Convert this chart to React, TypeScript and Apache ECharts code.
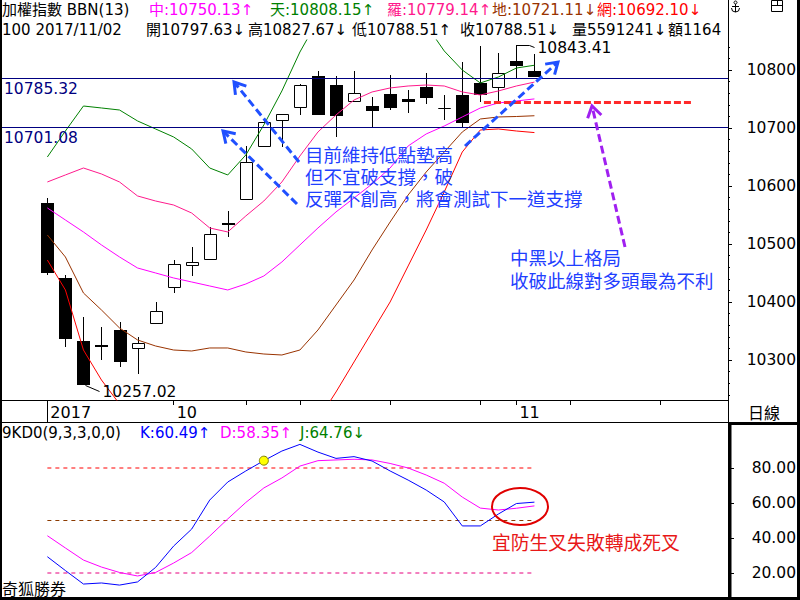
import React, { useEffect, useRef } from "react";
import * as echarts from "echarts";

// ---- data ----
const dates = [
  "2017/09/21", "2017/09/22", "2017/09/25", "2017/09/26", "2017/09/27", "2017/09/28", "2017/09/29",
  "2017/10/02", "2017/10/03", "2017/10/05", "2017/10/06", "2017/10/11", "2017/10/12", "2017/10/13",
  "2017/10/16", "2017/10/17", "2017/10/18", "2017/10/19", "2017/10/20", "2017/10/23", "2017/10/24",
  "2017/10/25", "2017/10/26", "2017/10/27", "2017/10/30", "2017/10/31", "2017/11/01", "2017/11/02",
];
const opens = [10570.7, 10441.4, 10332.8, 10326.0, 10351.7, 10320.2, 10363.3, 10425.3, 10463.3, 10473.6, 10537.0, 10577.0, 10669.8, 10713.8, 10735.7, 10790.2, 10774.7, 10746.0, 10738.0, 10759.1, 10750.0, 10770.7, 10734.0, 10756.9, 10777.1, 10771.2, 10815.5, 10797.63];
const closes = [10450.5, 10336.7, 10257.02, 10323.5, 10297.1, 10328.8, 10384.0, 10465.0, 10468.4, 10517.2, 10534.5, 10640.9, 10709.8, 10723.6, 10774.1, 10722.4, 10721.2, 10759.8, 10729.8, 10735.0, 10744.3, 10751.2, 10734.2, 10709.1, 10757.0, 10794.3, 10807.4, 10788.51];
const lows = [10446.6, 10323.0, 10257.02, 10300.0, 10288.5, 10275.3, 10363.3, 10415.0, 10445.3, 10473.6, 10512.6, 10577.0, 10668.0, 10667.8, 10723.0, 10722.4, 10685.0, 10746.0, 10702.2, 10731.0, 10726.4, 10740.9, 10713.8, 10700.0, 10744.0, 10746.6, 10784.0, 10788.51];
const highs = [10578.8, 10446.6, 10374.7, 10357.4, 10365.0, 10340.2, 10400.0, 10472.4, 10495.3, 10529.8, 10556.9, 10669.0, 10711.5, 10724.5, 10776.0, 10798.3, 10790.2, 10798.3, 10754.0, 10791.4, 10765.5, 10794.3, 10756.9, 10813.8, 10841.9, 10829.8, 10843.41, 10827.67];

const bbTian = [10650.0, 10694.8, 10737.9, 10734.5, 10731.0, 10712.1, 10698.3, 10684.5, 10663.8, 10631.0, 10619.0, 10653.4, 10705.2, 10763.8, 10831.0, 10886.2, 10903.4, 10912.1, 10915.5, 10912.1, 10900.0, 10877.6, 10832.8, 10800.0, 10777.6, 10787.9, 10803.4, 10808.15];
const bbLuo = [10606.9, 10619.0, 10631.0, 10620.7, 10606.9, 10582.8, 10574.1, 10567.2, 10553.4, 10527.6, 10520.7, 10548.3, 10574.1, 10606.9, 10651.7, 10693.1, 10722.4, 10748.3, 10762.1, 10769.0, 10772.4, 10774.1, 10772.4, 10762.1, 10756.9, 10763.8, 10772.4, 10779.14];
const bbZhong = [10562.1, 10541.4, 10520.7, 10498.3, 10477.6, 10458.6, 10450.0, 10441.4, 10434.5, 10427.6, 10420.7, 10431.0, 10444.8, 10469.0, 10498.3, 10527.6, 10555.2, 10579.3, 10603.4, 10631.0, 10669.0, 10689.7, 10703.4, 10719.0, 10734.5, 10743.1, 10746.6, 10750.13];
const bbDi = [10515.5, 10477.6, 10415.5, 10386.2, 10355.2, 10334.5, 10324.1, 10317.2, 10315.5, 10320.7, 10320.7, 10313.8, 10310.3, 10308.6, 10317.2, 10351.7, 10394.8, 10437.9, 10489.7, 10537.9, 10584.5, 10624.1, 10658.6, 10693.1, 10715.5, 10719.0, 10719.8, 10721.11];
const bbWang = [10472.4, 10420.7, 10317.2, 10265.5, 10224.1, 10205.2, 10201.7, 10198.3, 10205.2, 10213.8, 10220.7, 10208.6, 10184.5, 10174.1, 10170.7, 10196.6, 10244.8, 10296.6, 10348.3, 10400.0, 10462.1, 10524.1, 10589.7, 10658.6, 10696.6, 10698.3, 10694.8, 10692.10];

const kdK = [29.3, 21.4, 13.7, 14.3, 13.1, 14.9, 23.2, 35.4, 45.1, 61.7, 72.0, 78.3, 84.2, 89.7, 93.5, 89.1, 85.5, 86.5, 84.0, 78.3, 73.1, 67.4, 60.6, 46.9, 46.9, 53.7, 59.7, 60.49];
const kdD = [41.3, 34.3, 27.4, 23.4, 20.3, 18.3, 20.3, 25.7, 31.7, 41.1, 50.9, 60.3, 68.6, 74.3, 81.1, 84.2, 84.6, 85.0, 84.6, 82.6, 80.0, 76.0, 71.3, 63.4, 57.1, 56.0, 57.0, 58.35];
const kdJ = 64.76;
const kdDotIdx = 12;

const priceTicks = [10300, 10400, 10500, 10600, 10700, 10800];
const priceMinorTicks = [10240, 10260, 10280, 10320, 10340, 10360, 10380, 10420, 10440, 10460, 10480, 10520, 10540, 10560, 10580, 10620, 10640, 10660, 10680, 10720, 10740, 10760, 10780, 10820, 10840];
const kdTicks = [20, 40, 60, 80];
const kdLevels = [80, 50, 20];
const kdLevelColors = ["#FF0000", "#8B3A00", "#E6007E"];
const dateTickIdx = [0, 7, 11, 14, 19, 24, 26, 29, 34];
const dateLabelIdx = [0, 7, 26];
const dateLabelText = ["2017", "10", "11"];
const refLines = [10785.32, 10701.08];
const supportLevel = 10744.3;
const supportFrom = 24.2;
const supportTo = 35.7;

const FONT = '"DejaVu Sans", "Noto Sans CJK TC", sans-serif';
const CJK = '"Noto Sans CJK TC", "DejaVu Sans", sans-serif';

export default function App() {
  const ref = useRef<HTMLDivElement>(null);
  useEffect(() => {
    const el = ref.current as HTMLDivElement;
    const chart = echarts.init(el, null, { renderer: "svg" });
    const n = opens.length;
    const last = n - 1;
    const candleData = opens.map((o, i) => [i, o, closes[i], lows[i], highs[i]]);
    const toXY = (arr: number[]) => arr.map((v, i) => [i, v]);
    const xMin = -2.57, xMax = 37.73;
    const yMin = 10231.0, yMax = 10851.7;

    const renderItem = (params: any, api: any) => {
      const i = api.value(0);
      const o = api.value(1), c = api.value(2), l = api.value(3), h = api.value(4);
      const pO = api.coord([i, o]);
      const pC = api.coord([i, c]);
      const pL = api.coord([i, l]);
      const pH = api.coord([i, h]);
      const cx = Math.round(pO[0]);
      const up = c >= o;
      const top = Math.round(Math.min(pO[1], pC[1]));
      const bot = Math.round(Math.max(pO[1], pC[1]));
      const children: any[] = [
        { type: "line", shape: { x1: cx + 0.5, y1: Math.round(pH[1]), x2: cx + 0.5, y2: Math.round(pL[1]) }, style: { stroke: "#000", lineWidth: 1 } },
      ];
      if (up) {
        children.push({ type: "rect", shape: { x: cx - 5.5, y: top + 0.5, width: 12, height: Math.max(bot - top, 0) }, style: { fill: "#fff", stroke: "#000", lineWidth: 1 } });
      } else {
        const b = Math.max(bot, top + 2);
        children.push({ type: "rect", shape: { x: cx - 6, y: top, width: 13, height: b - top }, style: { fill: "#000" } });
      }
      return { type: "group", children };
    };

    const bandLine = (name: string, arr: number[], color: string, extra: any = {}) => ({
      type: "line", name, xAxisIndex: 0, yAxisIndex: 0, data: toXY(arr), symbol: "none", showSymbol: false,
      lineStyle: { color, width: 1 }, itemStyle: { color }, clip: true, silent: true, z: 3, ...extra,
    });

    const option: any = {
      animation: false,
      backgroundColor: "#ffffff",
      textStyle: { fontFamily: FONT },
      grid: [
        { left: 1, right: 72, top: 40, height: 360, outerBoundsMode: "none" },
        { left: 1, right: 72, top: 422, height: 175, outerBoundsMode: "none" },
      ],
      xAxis: [
        {
          type: "value", gridIndex: 0, min: xMin, max: xMax, position: "bottom",
          axisLine: { show: true, onZero: false, lineStyle: { color: "#000", width: 1 } },
          axisTick: { show: true, customValues: dateTickIdx, length: 5, lineStyle: { color: "#000" } },
          axisLabel: {
            show: true, customValues: dateLabelIdx,
            formatter: (v: number) => dateLabelText[dateLabelIdx.indexOf(Math.round(v))] ?? "",
            align: "left", margin: 4, padding: [0, 0, 0, 3], color: "#000", fontSize: 16, fontFamily: FONT,
          },
          splitLine: { show: false },
        },
        {
          type: "value", gridIndex: 0, min: xMin, max: xMax, position: "bottom",
          axisLine: { show: false, onZero: false }, axisTick: { show: true, customValues: [0], length: 22, lineStyle: { color: "#000" } },
          axisLabel: { show: false }, splitLine: { show: false },
        },
        { type: "value", gridIndex: 1, min: xMin, max: xMax, show: false, splitLine: { show: false } },
      ],
      yAxis: [
        {
          type: "value", gridIndex: 0, position: "right", min: yMin, max: yMax,
          axisLine: { show: true, onZero: false, lineStyle: { color: "#000", width: 1 } },
          axisTick: { show: true, customValues: priceTicks, length: 4, lineStyle: { color: "#000" } },
          axisLabel: { show: true, customValues: priceTicks, formatter: (v: number) => String(Math.round(v)), align: "right", margin: 68, color: "#000", fontSize: 15.5, fontFamily: FONT },
          splitLine: { show: false },
        },
        {
          type: "value", gridIndex: 0, position: "right", min: yMin, max: yMax,
          axisLine: { show: false, onZero: false },
          axisTick: { show: true, customValues: priceMinorTicks, length: 2, lineStyle: { color: "#000" } },
          axisLabel: { show: false }, splitLine: { show: false },
        },
        {
          type: "value", gridIndex: 1, position: "right", min: 6.29, max: 106.29,
          axisLine: { show: true, onZero: false, lineStyle: { color: "#000", width: 1 } },
          axisTick: { show: true, customValues: kdTicks, length: 6, lineStyle: { color: "#000" } },
          axisLabel: { show: true, customValues: kdTicks, formatter: (v: number) => v.toFixed(2), align: "right", margin: 68, color: "#000", fontSize: 15.5, fontFamily: FONT },
          splitLine: { show: false },
        },
      ],
      series: [
        { type: "custom", name: "加權指數", xAxisIndex: 0, yAxisIndex: 0, data: candleData, encode: { x: 0, y: [1, 2, 3, 4] }, renderItem, z: 2, silent: true },
        bandLine("天", bbTian, "#008000"),
        bandLine("羅", bbLuo, "#FF1A8C"),
        bandLine("中", bbZhong, "#FF00FF", {
          markLine: {
            silent: true, symbol: ["none", "none"],
            data: [
              { yAxis: refLines[0], lineStyle: { color: "#000080", width: 1, type: "solid" }, label: { show: true, formatter: refLines[0].toFixed(2), position: "insideStartBottom", color: "#000080", fontSize: 15.5, fontFamily: FONT, distance: 3 } },
              { yAxis: refLines[1], lineStyle: { color: "#000080", width: 1, type: "solid" }, label: { show: true, formatter: refLines[1].toFixed(2), position: "insideStartBottom", color: "#000080", fontSize: 15.5, fontFamily: FONT, distance: 3 } },
              [
                { coord: [supportFrom, supportLevel], lineStyle: { color: "#FF2A2A", width: 3, type: [7, 3] }, label: { show: false } },
                { coord: [supportTo, supportLevel] },
              ],
            ],
          },
        }),
        bandLine("地", bbDi, "#993300"),
        bandLine("網", bbWang, "#FF0000"),
        ...kdLevels.map((lv, k) => ({
          type: "line", xAxisIndex: 2, yAxisIndex: 2, data: [[0, lv], [last, lv]], symbol: "none",
          lineStyle: { color: kdLevelColors[k], width: 1, type: [4, 4] }, silent: true, z: 2,
        })),
        {
          type: "line", name: "D", xAxisIndex: 2, yAxisIndex: 2, data: toXY(kdD), symbol: "none",
          lineStyle: { color: "#FF00FF", width: 1 }, itemStyle: { color: "#FF00FF" }, silent: true, z: 3,
        },
        {
          type: "line", name: "K", xAxisIndex: 2, yAxisIndex: 2, data: toXY(kdK), symbol: "none",
          lineStyle: { color: "#0000FF", width: 1 }, itemStyle: { color: "#0000FF" }, silent: true, z: 4,
          markPoint: {
            silent: true, symbol: "circle", symbolSize: 9, label: { show: false },
            itemStyle: { color: "#FFFF00", borderColor: "#7F7F00", borderWidth: 1 },
            data: [{ coord: [kdDotIdx, kdK[kdDotIdx]] }],
          },
        },
      ],
    };
    chart.setOption(option);

    const T = (text: string, x: number, y: number, fill: string, fontSize = 15, extra: any = {}) => ({
      type: "text", z: 100, silent: true,
      style: { text, x, y, fill, fontSize, fontFamily: FONT, verticalAlign: "middle", align: "left", ...extra },
    });
    const L = (x1: number, y1: number, x2: number, y2: number, stroke = "#000", lineWidth = 1) => ({
      type: "line", z: 100, silent: true, shape: { x1, y1, x2, y2 }, style: { stroke, lineWidth },
    });
    const arrow = (x1: number, y1: number, x2: number, y2: number, color: string) => {
      const dx = x2 - x1, dy = y2 - y1, len = Math.hypot(dx, dy);
      const ux = dx / len, uy = dy / len;
      const Lh = 13, a = Math.PI / 5.5;
      const ca = Math.cos(a), sa = Math.sin(a);
      const p1 = [x2 - Lh * (ux * ca - uy * sa), y2 - Lh * (uy * ca + ux * sa)];
      const p2 = [x2 - Lh * (ux * ca + uy * sa), y2 - Lh * (uy * ca - ux * sa)];
      return [
        { type: "line", z: 90, silent: true, shape: { x1, y1, x2: x2 - ux * 2, y2: y2 - uy * 2 }, style: { stroke: color, lineWidth: 3, lineDash: [8, 4] } },
        { type: "polyline", z: 90, silent: true, shape: { points: [p1, [x2, y2], p2] }, style: { stroke: color, lineWidth: 3, fill: null } },
      ];
    };

    let lowIdx = 0, highIdx = 0;
    lows.forEach((v, i) => { if (v < lows[lowIdx]) lowIdx = i; });
    highs.forEach((v, i) => { if (v > highs[highIdx]) highIdx = i; });
    const pLow = chart.convertToPixel({ xAxisIndex: 0, yAxisIndex: 0 }, [lowIdx, lows[lowIdx]]) as number[];
    const pHigh = chart.convertToPixel({ xAxisIndex: 0, yAxisIndex: 0 }, [highIdx, highs[highIdx]]) as number[];
    const hx = Math.round(pHigh[0]) + 0.5, hy = Math.round(pHigh[1]) + 0.5;
    const lx = Math.round(pLow[0]) + 0.5, ly = Math.round(pLow[1]) + 0.5;

    const blue = "#2050FF";
    const textBlue = "#1F40FF";
    const purple = "#A020F0";
    const NOTE = 18.5;

    const graphics: any[] = [
      T("加權指數 BBN(13)", 2, 10, "#000"),
      T(`中:${bbZhong[last].toFixed(2)}↑`, 149, 10, "#FF00FF"),
      T(`天:${bbTian[last].toFixed(2)}↑`, 270, 10, "#008000"),
      T(`羅:${bbLuo[last].toFixed(2)}↑`, 387, 10, "#FF1A8C"),
      T(`地:${bbDi[last].toFixed(2)}↓`, 492, 10, "#993300"),
      T(`網:${bbWang[last].toFixed(2)}↓`, 597, 10, "#FF0000"),
      T(`100 ${dates[last]}`, 2, 30, "#000"),
      T(`開${opens[last].toFixed(2)}↓`, 146, 30, "#000"),
      T(`高${highs[last].toFixed(2)}↓`, 248, 30, "#000"),
      T(`低${lows[last].toFixed(2)}↑`, 352, 30, "#000"),
      T(`收${closes[last].toFixed(2)}↓`, 460, 30, "#000"),
      T("量5591241↓", 572, 30, "#000"),
      T("額1164", 668, 30, "#000"),
      L(1, 0, 1, 600, "#000", 2),
      L(798.5, 0, 798.5, 600, "#000", 3),
      L(0, 598.5, 800, 598.5, "#000", 3),
      L(728.5, 0, 728.5, 422),
      L(0, 422.5, 728, 422.5),
      L(728, 423.5, 800, 423.5, "#000", 3),
      L(730, 422, 730, 600, "#000", 3),
      { type: "rect", z: 100, silent: true, shape: { x: 771.5, y: 0.5, width: 11, height: 11 }, style: { fill: "#fff", stroke: "#000", lineWidth: 1 } },
      L(771, 5.5, 783, 5.5),
      L(777.5, 0, 777.5, 6),
      { type: "circle", z: 100, silent: true, shape: { cx: 735.5, cy: 2.5, r: 1.5 }, style: { fill: "none", stroke: "#000", lineWidth: 1 } },
      L(735.5, 4, 735.5, 12),
      L(732, 6.5, 739, 6.5),
      { type: "arc", z: 100, silent: true, shape: { cx: 735.5, cy: 8, r: 4, startAngle: 0, endAngle: Math.PI, clockwise: true }, style: { stroke: "#000", lineWidth: 1, fill: "none" } },
      T("日線", 748, 412, "#000", 16, { fontFamily: CJK }),
      T("奇狐勝券", 2, 588, "#000", 16, { fontFamily: CJK }),
      T("9KD0(9,3,3,0,0)", 2, 433, "#000"),
      T(`K:${kdK[last].toFixed(2)}↑`, 140, 433, "#0000FF"),
      T(`D:${kdD[last].toFixed(2)}↑`, 220, 433, "#FF00FF"),
      T(`J:${kdJ.toFixed(2)}↓`, 300, 433, "#008000"),
      { type: "polyline", z: 100, silent: true, shape: { points: [[lx + 2, ly], [lx + 16, ly + 6]] }, style: { stroke: "#000", lineWidth: 1, fill: null } },
      T(lows[lowIdx].toFixed(2), lx + 19, ly + 6, "#000", 15.5),
      { type: "polyline", z: 100, silent: true, shape: { points: [[hx, hy], [hx + 13, hy], [hx + 18, hy + 2]] }, style: { stroke: "#000", lineWidth: 1, fill: null } },
      T(highs[highIdx].toFixed(2), hx + 21, hy + 2, "#000", 15.5),
      ...arrow(299, 162, 234, 82, blue),
      ...arrow(297, 204, 223, 131, blue),
      ...arrow(465, 146, 558, 62, blue),
      ...arrow(625, 247, 592, 106, purple),
      T("目前維持低點墊高", 305, 155, textBlue, NOTE),
      T("但不宜破支撐，破", 305, 177, textBlue, NOTE),
      T("反彈不創高，將會測試下一道支撐", 305, 199, textBlue, NOTE),
      T("中黑以上格局", 510, 258, textBlue, NOTE),
      T("收破此線對多頭最為不利", 510, 281, textBlue, NOTE),
      T("宜防生叉失敗轉成死叉", 492, 543, "#E81818", 18.8),
      { type: "ellipse", z: 100, silent: true, shape: { cx: 520, cy: 506.5, rx: 28, ry: 18.5 }, style: { fill: "none", stroke: "#E00000", lineWidth: 2 } },
    ];
    chart.setOption({ graphic: graphics });

    return () => chart.dispose();
  }, []);
  return <div ref={ref} style={{ position: "fixed", left: 0, top: 0, width: 800, height: 600 }} />;
}
